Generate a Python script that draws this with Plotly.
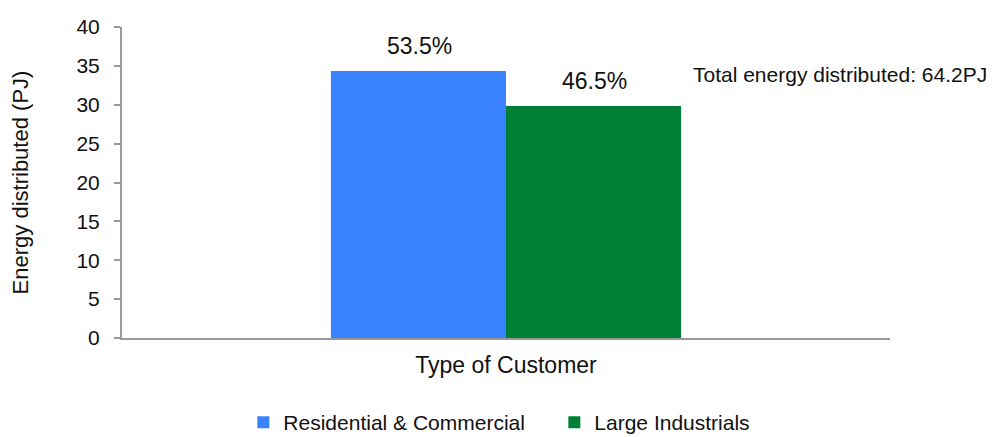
import plotly.graph_objects as go

# Energy distributed by customer type (PJ)
category = ["Type of Customer"]
series_names = ["Residential & Commercial", "Large Industrials"]
energy_pj = [34.35, 29.85]
share_labels = ["53.5%", "46.5%"]
colors = ["#3a83fd", "#007f37"]
total_label = "Total energy distributed: 64.2PJ"
y_ticks = [0, 5, 10, 15, 20, 25, 30, 35, 40]

FONT = "Liberation Sans, Arial, sans-serif"
INK = "#111111"

fig = go.Figure()
for name, val, col in zip(series_names, energy_pj, colors):
    fig.add_trace(go.Bar(
        x=category, y=[val], name=name,
        marker=dict(color=col, line=dict(width=0)),
    ))

# Percentage share labels above each bar
offsets = [-87, 88]
for val, lab, dx in zip(energy_pj, share_labels, offsets):
    fig.add_annotation(
        x=category[0], y=val, xref="x", yref="y", text=lab,
        showarrow=False, xshift=dx, yanchor="bottom", yshift=10,
        font=dict(size=23, color=INK, family=FONT),
    )

fig.add_annotation(
    x=0.741, y=0.846, xref="paper", yref="paper", text=total_label,
    showarrow=False, xanchor="left", yanchor="middle",
    font=dict(size=21, color=INK, family=FONT),
)

fig.update_layout(
    width=997, height=437,
    margin=dict(l=122, r=107, t=27, b=99, autoexpand=False),
    paper_bgcolor="white", plot_bgcolor="white",
    barmode="group", bargap=0.544, bargroupgap=0,
    font=dict(family=FONT, color=INK),
    showlegend=True,
    legend=dict(
        orientation="h", x=0.158, y=-0.272, xanchor="left", yanchor="middle",
        font=dict(size=21, family=FONT, color=INK),
        entrywidth=266, entrywidthmode="pixels",
        itemwidth=30, traceorder="normal",
    ),
)

fig.update_xaxes(
    showticklabels=False, ticks="",
    showline=True, linecolor="#999999", linewidth=2,
    title=dict(text="Type of Customer", standoff=18,
               font=dict(size=23, family=FONT, color=INK)),
)
fig.update_yaxes(
    range=[0, 40], tickvals=y_ticks, ticktext=[str(v) for v in y_ticks],
    showgrid=False, zeroline=False,
    showline=True, linecolor="#999999", linewidth=2,
    ticks="outside", ticklen=6, tickcolor="#999999", tickwidth=2,
    ticklabelstandoff=10,
    tickfont=dict(size=21, family=FONT, color=INK),
    title=dict(text="Energy distributed (PJ)", standoff=42,
               font=dict(size=22, family=FONT, color=INK)),
)

fig.write_html("out.html")
